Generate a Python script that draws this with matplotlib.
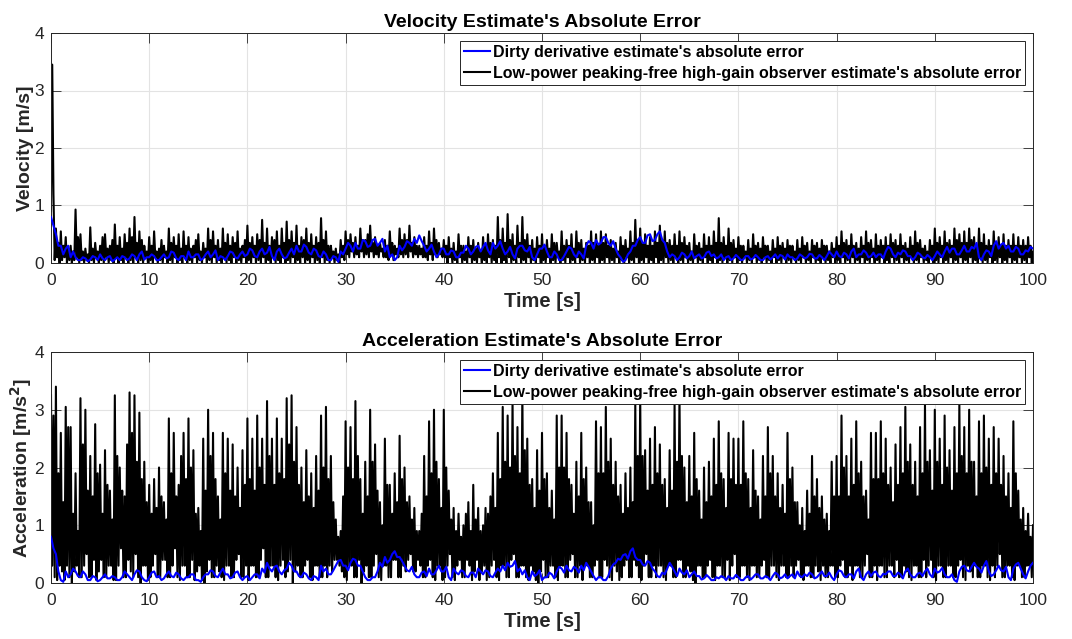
import matplotlib
matplotlib.use("Agg")
import matplotlib.pyplot as plt
import numpy as np

plt.rcParams["font.family"] = ["Liberation Sans", "DejaVu Sans"]

# velocity error, observer (black), 0.125 s samples, one row = 2 s
vel_hg = [
    0.9, 3.45, 1.2, 0.05, 0.6, 0.1, 0.35, 0.0, 0.55, 0.05, 0.3, 0.1, 0.45, 0.0, 0.25, 0.05,
    0.3, 0.0, 0.2, 0.05, 0.93, 0.1, 0.45, 0.0, 0.5, 0.05, 0.2, 0.0, 0.25, 0.05, 0.15, 0.0,
    0.62, 0.05, 0.25, 0.0, 0.35, 0.1, 0.2, 0.0, 0.3, 0.05, 0.45, 0.0, 0.5, 0.1, 0.25, 0.0,
    0.3, 0.05, 0.4, 0.0, 0.67, 0.1, 0.3, 0.0, 0.45, 0.05, 0.25, 0.0, 0.5, 0.1, 0.35, 0.0,
    0.6, 0.05, 0.45, 0.0, 0.8, 0.1, 0.35, 0.0, 0.55, 0.05, 0.4, 0.0, 0.3, 0.1, 0.2, 0.0,
    0.45, 0.05, 0.3, 0.0, 0.55, 0.1, 0.2, 0.0, 0.25, 0.05, 0.4, 0.0, 0.3, 0.1, 0.2, 0.0,
    0.6, 0.05, 0.35, 0.0, 0.45, 0.1, 0.3, 0.0, 0.5, 0.05, 0.25, 0.0, 0.55, 0.1, 0.3, 0.0,
    0.45, 0.05, 0.25, 0.0, 0.3, 0.1, 0.4, 0.0, 0.5, 0.05, 0.2, 0.0, 0.35, 0.1, 0.25, 0.0,
    0.6, 0.05, 0.4, 0.0, 0.55, 0.1, 0.3, 0.0, 0.4, 0.05, 0.25, 0.0, 0.6, 0.1, 0.35, 0.0,
    0.5, 0.05, 0.3, 0.0, 0.45, 0.1, 0.35, 0.0, 0.55, 0.05, 0.25, 0.0, 0.3, 0.1, 0.4, 0.0,
    0.65, 0.05, 0.35, 0.0, 0.45, 0.1, 0.3, 0.0, 0.5, 0.05, 0.4, 0.0, 0.75, 0.1, 0.35, 0.0,
    0.6, 0.05, 0.3, 0.0, 0.45, 0.1, 0.4, 0.0, 0.55, 0.05, 0.3, 0.0, 0.6, 0.1, 0.35, 0.0,
    0.72, 0.05, 0.4, 0.0, 0.55, 0.1, 0.35, 0.0, 0.65, 0.05, 0.3, 0.0, 0.45, 0.1, 0.4, 0.0,
    0.6, 0.05, 0.35, 0.0, 0.5, 0.1, 0.3, 0.0, 0.45, 0.05, 0.35, 0.0, 0.78, 0.1, 0.4, 0.0,
    0.55, 0.05, 0.3, 0.0, 0.3, 0.1, 0.2, 0.0, 0.25, 0.05, 0.15, 0.0, 0.4, 0.1, 0.3, 0.05,
    0.55, 0.15, 0.4, 0.1, 0.5, 0.2, 0.35, 0.1, 0.45, 0.15, 0.3, 0.1, 0.6, 0.2, 0.4, 0.1,
    0.4, 0.15, 0.5, 0.1, 0.65, 0.2, 0.35, 0.1, 0.45, 0.15, 0.3, 0.1, 0.35, 0.2, 0.25, 0.1,
    0.4, 0.1, 0.3, 0.05, 0.55, 0.15, 0.35, 0.05, 0.3, 0.15, 0.25, 0.1, 0.6, 0.15, 0.4, 0.1,
    0.5, 0.15, 0.4, 0.1, 0.65, 0.2, 0.35, 0.1, 0.45, 0.15, 0.3, 0.1, 0.3, 0.15, 0.25, 0.1,
    0.45, 0.1, 0.3, 0.05, 0.55, 0.15, 0.35, 0.05, 0.6, 0.15, 0.4, 0.1, 0.35, 0.15, 0.25, 0.1,
    0.4, 0.1, 0.3, 0.0, 0.45, 0.1, 0.25, 0.0, 0.35, 0.05, 0.2, 0.0, 0.5, 0.1, 0.3, 0.0,
    0.3, 0.05, 0.2, 0.0, 0.45, 0.1, 0.3, 0.0, 0.4, 0.05, 0.25, 0.0, 0.35, 0.1, 0.2, 0.0,
    0.45, 0.05, 0.3, 0.0, 0.5, 0.1, 0.35, 0.0, 0.4, 0.05, 0.3, 0.0, 0.8, 0.1, 0.4, 0.0,
    0.6, 0.05, 0.35, 0.0, 0.85, 0.1, 0.4, 0.0, 0.5, 0.05, 0.3, 0.0, 0.65, 0.1, 0.35, 0.0,
    0.8, 0.05, 0.4, 0.0, 0.5, 0.1, 0.3, 0.0, 0.4, 0.05, 0.25, 0.0, 0.45, 0.1, 0.3, 0.0,
    0.5, 0.05, 0.3, 0.0, 0.4, 0.1, 0.25, 0.0, 0.5, 0.05, 0.35, 0.0, 0.35, 0.1, 0.2, 0.0,
    0.55, 0.05, 0.3, 0.0, 0.4, 0.1, 0.3, 0.0, 0.5, 0.05, 0.25, 0.0, 0.55, 0.1, 0.35, 0.0,
    0.4, 0.05, 0.25, 0.0, 0.35, 0.1, 0.3, 0.0, 0.55, 0.05, 0.35, 0.0, 0.5, 0.1, 0.3, 0.0,
    0.55, 0.05, 0.35, 0.0, 0.5, 0.1, 0.3, 0.0, 0.4, 0.05, 0.25, 0.0, 0.35, 0.1, 0.2, 0.0,
    0.45, 0.05, 0.3, 0.0, 0.4, 0.1, 0.25, 0.0, 0.55, 0.05, 0.35, 0.0, 0.75, 0.1, 0.4, 0.0,
    0.6, 0.05, 0.35, 0.0, 0.5, 0.1, 0.3, 0.0, 0.45, 0.05, 0.3, 0.0, 0.55, 0.1, 0.35, 0.0,
    0.65, 0.05, 0.4, 0.0, 0.55, 0.1, 0.35, 0.0, 0.4, 0.05, 0.3, 0.0, 0.5, 0.1, 0.3, 0.0,
    0.55, 0.05, 0.35, 0.0, 0.45, 0.1, 0.3, 0.0, 0.35, 0.05, 0.2, 0.0, 0.5, 0.1, 0.3, 0.0,
    0.35, 0.05, 0.25, 0.0, 0.5, 0.1, 0.3, 0.0, 0.45, 0.05, 0.3, 0.0, 0.55, 0.1, 0.35, 0.0,
    0.78, 0.05, 0.35, 0.0, 0.45, 0.1, 0.3, 0.0, 0.6, 0.05, 0.35, 0.0, 0.4, 0.1, 0.25, 0.0,
    0.45, 0.05, 0.3, 0.0, 0.3, 0.1, 0.2, 0.0, 0.4, 0.05, 0.25, 0.0, 0.5, 0.1, 0.3, 0.0,
    0.35, 0.05, 0.25, 0.0, 0.45, 0.1, 0.3, 0.0, 0.3, 0.05, 0.2, 0.0, 0.4, 0.1, 0.25, 0.0,
    0.45, 0.05, 0.3, 0.0, 0.35, 0.1, 0.25, 0.0, 0.4, 0.05, 0.3, 0.0, 0.3, 0.1, 0.2, 0.0,
    0.4, 0.05, 0.25, 0.0, 0.45, 0.1, 0.3, 0.0, 0.35, 0.05, 0.2, 0.0, 0.4, 0.1, 0.3, 0.0,
    0.35, 0.05, 0.25, 0.0, 0.4, 0.1, 0.3, 0.0, 0.3, 0.05, 0.2, 0.0, 0.35, 0.1, 0.25, 0.0,
    0.45, 0.05, 0.3, 0.0, 0.55, 0.1, 0.35, 0.0, 0.4, 0.05, 0.3, 0.0, 0.5, 0.1, 0.3, 0.0,
    0.35, 0.05, 0.25, 0.0, 0.45, 0.1, 0.3, 0.0, 0.55, 0.05, 0.35, 0.0, 0.4, 0.1, 0.25, 0.0,
    0.5, 0.05, 0.3, 0.0, 0.4, 0.1, 0.3, 0.0, 0.45, 0.05, 0.3, 0.0, 0.5, 0.1, 0.35, 0.0,
    0.4, 0.05, 0.3, 0.0, 0.5, 0.1, 0.3, 0.0, 0.35, 0.05, 0.25, 0.0, 0.45, 0.1, 0.3, 0.0,
    0.55, 0.05, 0.35, 0.0, 0.4, 0.1, 0.25, 0.0, 0.3, 0.05, 0.2, 0.0, 0.4, 0.1, 0.3, 0.0,
    0.6, 0.05, 0.35, 0.0, 0.45, 0.1, 0.3, 0.0, 0.55, 0.05, 0.35, 0.0, 0.4, 0.1, 0.3, 0.0,
    0.6, 0.05, 0.4, 0.0, 0.5, 0.1, 0.35, 0.0, 0.55, 0.05, 0.35, 0.0, 0.6, 0.1, 0.4, 0.0,
    0.45, 0.05, 0.3, 0.0, 0.6, 0.1, 0.35, 0.0, 0.5, 0.05, 0.3, 0.0, 0.4, 0.1, 0.3, 0.0,
    0.55, 0.05, 0.35, 0.0, 0.45, 0.1, 0.3, 0.0, 0.5, 0.05, 0.3, 0.0, 0.4, 0.1, 0.3, 0.0,
    0.5, 0.05, 0.3, 0.0, 0.45, 0.1, 0.3, 0.0, 0.4, 0.05, 0.3, 0.0, 0.45, 0.1, 0.3, 0.0,
    0.2,
]

# velocity error, dirty derivative (blue), 0.25 s samples, one row = 2 s
vel_dd = [
    0.8, 0.65, 0.5, 0.3, 0.3, 0.15, 0.25, 0.3,
    0.1, 0.2, 0.1, 0.05, 0.05, 0.1, 0.08, 0.03,
    0.06, 0.12, 0.1, 0.05, 0.15, 0.08, 0.05, 0.1,
    0.12, 0.03, 0.06, 0.1, 0.05, 0.12, 0.1, 0.05,
    0.08, 0.15, 0.12, 0.05, 0.15, 0.2, 0.06, 0.1,
    0.1, 0.15, 0.12, 0.05, 0.05, 0.1, 0.15, 0.08,
    0.1, 0.2, 0.18, 0.08, 0.05, 0.12, 0.12, 0.05,
    0.2, 0.1, 0.1, 0.15, 0.15, 0.05, 0.08, 0.15,
    0.2, 0.1, 0.15, 0.22, 0.05, 0.12, 0.1, 0.05,
    0.12, 0.2, 0.18, 0.1, 0.08, 0.15, 0.2, 0.12,
    0.15, 0.25, 0.22, 0.12, 0.1, 0.2, 0.25, 0.15,
    0.18, 0.28, 0.12, 0.05, 0.2, 0.25, 0.15, 0.08,
    0.1, 0.18, 0.25, 0.15, 0.3, 0.2, 0.2, 0.32,
    0.28, 0.18, 0.15, 0.25, 0.22, 0.12, 0.1, 0.2,
    0.15, 0.05, 0.05, 0.12, 0.1, 0.02, 0.2, 0.15,
    0.25, 0.35, 0.3, 0.2, 0.35, 0.25, 0.25, 0.4,
    0.38, 0.28, 0.3, 0.4, 0.42, 0.3, 0.35, 0.42,
    0.2, 0.3, 0.1, 0.15, 0.05, 0.1, 0.3, 0.22,
    0.28, 0.38, 0.35, 0.3, 0.42, 0.35, 0.48, 0.38,
    0.3, 0.2, 0.25, 0.32, 0.2, 0.1, 0.15, 0.25,
    0.25, 0.15, 0.15, 0.22, 0.2, 0.1, 0.1, 0.18,
    0.18, 0.3, 0.25, 0.15, 0.2, 0.28, 0.3, 0.2,
    0.28, 0.35, 0.22, 0.15, 0.35, 0.25, 0.3, 0.38,
    0.25, 0.15, 0.2, 0.28, 0.15, 0.08, 0.25, 0.3,
    0.3, 0.22, 0.2, 0.28, 0.1, 0.05, 0.15, 0.25,
    0.25, 0.32, 0.2, 0.1, 0.1, 0.2, 0.15, 0.05,
    0.05, 0.12, 0.2, 0.28, 0.25, 0.15, 0.1, 0.2,
    0.15, 0.08, 0.3, 0.38, 0.35, 0.25, 0.4, 0.32,
    0.35, 0.45, 0.45, 0.35, 0.3, 0.38, 0.25, 0.15,
    0.1, 0.02, 0.05, 0.15, 0.2, 0.3, 0.3, 0.4,
    0.45, 0.35, 0.35, 0.48, 0.5, 0.38, 0.4, 0.5,
    0.55, 0.4, 0.35, 0.2, 0.1, 0.15, 0.12, 0.05,
    0.1, 0.18, 0.15, 0.08, 0.12, 0.2, 0.08, 0.12,
    0.15, 0.08, 0.1, 0.18, 0.2, 0.12, 0.15, 0.08,
    0.1, 0.15, 0.05, 0.1, 0.12, 0.05, 0.08, 0.14,
    0.1, 0.05, 0.06, 0.12, 0.12, 0.06, 0.08, 0.14,
    0.1, 0.05, 0.05, 0.1, 0.12, 0.06, 0.1, 0.15,
    0.08, 0.14, 0.12, 0.06, 0.15, 0.1, 0.1, 0.05,
    0.08, 0.15, 0.12, 0.08, 0.1, 0.16, 0.15, 0.08,
    0.08, 0.14, 0.1, 0.05, 0.12, 0.2, 0.15, 0.1,
    0.2, 0.12, 0.1, 0.18, 0.15, 0.08, 0.2, 0.25,
    0.1, 0.15, 0.15, 0.22, 0.18, 0.1, 0.12, 0.18,
    0.1, 0.15, 0.15, 0.08, 0.2, 0.28, 0.25, 0.15,
    0.1, 0.18, 0.15, 0.22, 0.2, 0.12, 0.12, 0.05,
    0.1, 0.18, 0.15, 0.1, 0.08, 0.14, 0.1, 0.05,
    0.12, 0.2, 0.15, 0.1, 0.2, 0.28, 0.18, 0.25,
    0.25, 0.15, 0.15, 0.22, 0.3, 0.2, 0.2, 0.28,
    0.25, 0.35, 0.1, 0.05, 0.15, 0.22, 0.2, 0.12,
    0.3, 0.38, 0.25, 0.32, 0.35, 0.25, 0.3, 0.2,
    0.2, 0.28, 0.25, 0.15, 0.15, 0.22, 0.2, 0.28,
    0.25,
]

# acceleration error, observer (black), 0.125 s samples, one row = 2 s
acc_hg = [
    3.25, 0.3, 2.9, 0.1, 3.4, 0.05, 1.9, 0.3, 2.6, 0.2, 1.4, 0.05, 3.05, 0.3, 2.7, 0.1,
    2.7, 0.0, 1.2, 0.2, 1.9, 0.3, 0.9, 0.1, 3.2, 0.1, 2.4, 0.3, 3.0, 0.5, 1.6, 0.1,
    2.2, 0.1, 1.5, 0.4, 2.75, 0.05, 1.9, 0.2, 2.05, 0.4, 1.2, 0.1, 2.3, 0.1, 1.7, 0.3,
    1.6, 0.3, 1.1, 0.05, 3.25, 0.05, 2.2, 0.3, 2.0, 0.6, 1.6, 0.1, 1.5, 0.1, 2.4, 0.4,
    3.3, 0.2, 2.6, 0.1, 3.25, 0.5, 2.1, 0.1, 2.95, 0.0, 1.8, 0.3, 2.1, 0.3, 1.4, 0.05,
    1.7, 0.1, 1.2, 0.3, 1.8, 0.5, 1.3, 0.1, 2.0, 0.1, 1.5, 0.4, 1.4, 0.4, 1.1, 0.1,
    2.85, 0.1, 1.9, 0.3, 2.6, 0.6, 1.5, 0.1, 1.7, 0.05, 2.2, 0.3, 2.6, 0.3, 1.8, 0.1,
    2.85, 0.1, 2.0, 0.4, 2.3, 0.05, 1.2, 0.2, 1.3, 0.3, 0.9, 0.05, 2.5, 0.0, 1.6, 0.2,
    3.0, 0.4, 2.2, 0.1, 2.6, 0.1, 1.8, 0.3, 1.5, 0.2, 1.1, 0.1, 2.6, 0.05, 1.9, 0.3,
    2.5, 0.3, 1.6, 0.1, 2.4, 0.1, 1.5, 0.4, 2.0, 0.5, 1.3, 0.1, 2.3, 0.1, 1.7, 0.3,
    2.85, 0.05, 1.8, 0.3, 2.5, 0.3, 1.6, 0.1, 2.9, 0.1, 2.0, 0.4, 2.5, 0.6, 1.7, 0.1,
    3.15, 0.1, 2.2, 0.3, 2.5, 0.3, 1.7, 0.1, 2.85, 0.05, 1.9, 0.3, 2.5, 0.4, 1.8, 0.1,
    3.2, 0.2, 2.4, 0.4, 3.25, 0.0, 2.1, 0.2, 2.7, 0.3, 1.7, 0.1, 2.0, 0.1, 1.4, 0.3,
    2.3, 0.4, 1.5, 0.1, 1.9, 0.05, 1.3, 0.3, 2.2, 0.3, 1.6, 0.1, 2.9, 0.1, 2.0, 0.3,
    3.05, 0.1, 1.8, 0.3, 2.2, 0.2, 1.4, 0.4, 1.1, 0.4, 0.8, 0.3, 0.9, 0.2, 1.5, 0.1,
    2.8, 0.05, 2.0, 0.3, 2.7, 0.3, 1.8, 0.1, 3.15, 0.1, 2.2, 0.4, 1.8, 0.0, 1.2, 0.2,
    2.1, 0.3, 1.5, 0.1, 3.0, 0.1, 2.1, 0.3, 2.4, 0.5, 1.6, 0.1, 1.4, 0.05, 1.0, 0.3,
    2.5, 0.3, 1.7, 0.1, 1.7, 0.1, 1.2, 0.4, 1.9, 0.4, 1.4, 0.1, 2.55, 0.1, 1.8, 0.3,
    2.0, 0.2, 1.4, 0.4, 1.5, 0.5, 1.1, 0.2, 1.3, 0.2, 0.9, 0.4, 0.9, 0.3, 1.2, 0.1,
    2.2, 0.1, 1.5, 0.3, 2.8, 0.4, 1.9, 0.1, 3.0, 0.05, 2.1, 0.3, 1.8, 0.3, 1.3, 0.05,
    3.0, 0.1, 2.0, 0.3, 1.6, 0.5, 1.1, 0.1, 1.3, 0.05, 0.9, 0.3, 1.2, 0.4, 0.8, 0.1,
    1.0, 0.1, 1.2, 0.4, 1.4, 0.3, 0.9, 0.05, 1.7, 0.2, 1.1, 0.4, 1.3, 0.05, 0.9, 0.2,
    1.0, 0.3, 1.3, 0.05, 1.2, 0.1, 1.5, 0.3, 1.9, 0.4, 1.3, 0.1, 2.6, 0.05, 1.8, 0.3,
    3.05, 0.3, 2.1, 0.1, 2.9, 0.1, 2.0, 0.4, 3.15, 0.5, 2.2, 0.1, 2.7, 0.1, 1.9, 0.3,
    3.3, 0.3, 2.3, 0.1, 2.5, 0.05, 1.7, 0.3, 1.8, 0.2, 1.3, 0.05, 2.3, 0.0, 1.6, 0.2,
    2.6, 0.4, 1.8, 0.1, 1.9, 0.1, 1.3, 0.3, 1.6, 0.3, 1.1, 0.1, 2.9, 0.05, 2.0, 0.3,
    2.9, 0.3, 2.0, 0.1, 2.6, 0.1, 1.8, 0.4, 1.7, 0.5, 1.2, 0.1, 2.1, 0.1, 1.5, 0.3,
    2.6, 0.05, 1.8, 0.3, 2.0, 0.3, 1.4, 0.1, 1.4, 0.1, 1.0, 0.3, 2.8, 0.4, 1.9, 0.1,
    2.7, 0.1, 1.9, 0.4, 3.05, 0.3, 2.1, 0.1, 2.5, 0.05, 1.7, 0.3, 2.1, 0.2, 1.5, 0.05,
    1.7, 0.1, 1.2, 0.3, 1.9, 0.4, 1.3, 0.1, 2.0, 0.1, 1.4, 0.4, 3.1, 0.3, 2.2, 0.1,
    3.25, 0.05, 2.2, 0.3, 2.3, 0.5, 1.6, 0.1, 2.5, 0.1, 1.7, 0.3, 2.7, 0.1, 1.9, 0.3,
    2.4, 0.3, 1.7, 0.1, 1.8, 0.05, 1.3, 0.3, 2.3, 0.3, 1.6, 0.1, 3.1, 0.1, 2.1, 0.4,
    3.25, 0.4, 2.2, 0.1, 2.0, 0.1, 1.4, 0.3, 2.2, 0.2, 1.5, 0.05, 2.6, 0.0, 1.8, 0.3,
    1.6, 0.3, 1.1, 0.1, 2.0, 0.1, 1.4, 0.3, 2.1, 0.4, 1.5, 0.1, 2.5, 0.05, 1.7, 0.3,
    2.8, 0.3, 1.9, 0.1, 1.8, 0.1, 1.3, 0.4, 2.6, 0.05, 1.8, 0.3, 2.5, 0.5, 1.7, 0.1,
    2.5, 0.1, 1.7, 0.3, 2.8, 0.3, 1.9, 0.1, 1.8, 0.05, 1.3, 0.3, 2.3, 0.3, 1.6, 0.1,
    1.5, 0.1, 1.1, 0.3, 2.2, 0.4, 1.5, 0.1, 2.7, 0.1, 1.9, 0.3, 2.2, 0.3, 1.5, 0.1,
    1.9, 0.05, 1.3, 0.3, 1.7, 0.3, 1.2, 0.1, 2.6, 0.1, 1.8, 0.3, 2.0, 0.1, 1.4, 0.3,
    1.4, 0.4, 1.0, 0.1, 1.3, 0.05, 0.9, 0.3, 1.6, 0.3, 1.2, 0.1, 2.2, 0.1, 1.5, 0.3,
    1.8, 0.2, 1.3, 0.05, 1.5, 0.3, 1.1, 0.1, 1.2, 0.1, 0.9, 0.3, 2.1, 0.3, 1.5, 0.1,
    2.2, 0.1, 1.5, 0.3, 2.9, 0.4, 2.0, 0.1, 2.2, 0.1, 1.5, 0.3, 2.5, 0.05, 1.7, 0.3,
    2.8, 0.3, 1.9, 0.1, 2.1, 0.1, 1.5, 0.3, 1.6, 0.5, 1.1, 0.1, 2.6, 0.1, 1.8, 0.3,
    2.6, 0.05, 1.8, 0.3, 2.8, 0.3, 1.9, 0.1, 2.5, 0.1, 1.7, 0.3, 2.0, 0.3, 1.4, 0.1,
    2.4, 0.4, 1.7, 0.1, 2.7, 0.1, 1.9, 0.3, 3.05, 0.2, 2.1, 0.1, 2.4, 0.05, 1.7, 0.3,
    2.1, 0.3, 1.5, 0.1, 2.7, 0.1, 1.9, 0.4, 3.1, 0.1, 2.1, 0.3, 2.3, 0.4, 1.6, 0.1,
    3.0, 0.05, 2.1, 0.3, 2.5, 0.3, 1.7, 0.1, 2.9, 0.1, 2.0, 0.3, 2.3, 0.3, 1.6, 0.1,
    2.7, 0.1, 1.9, 0.3, 3.1, 0.4, 2.2, 0.1, 2.7, 0.05, 1.9, 0.3, 3.0, 0.2, 2.1, 0.1,
    2.1, 0.3, 1.5, 0.1, 2.8, 0.1, 1.9, 0.3, 2.9, 0.3, 2.0, 0.1, 2.5, 0.05, 1.7, 0.3,
    2.7, 0.1, 1.9, 0.3, 2.5, 0.5, 1.7, 0.1, 2.2, 0.1, 1.5, 0.3, 1.9, 0.3, 1.3, 0.1,
    2.8, 0.05, 1.9, 0.3, 1.6, 0.3, 1.1, 0.1, 1.3, 0.1, 0.9, 0.3, 1.2, 0.3, 0.8, 0.1,
    1.0,
]

# acceleration error, dirty derivative (blue), 0.25 s samples, one row = 2 s
acc_dd = [
    0.8, 0.6, 0.5, 0.2, 0.05, 0.02, 0.2, 0.1,
    0.15, 0.25, 0.2, 0.12, 0.1, 0.2, 0.15, 0.05,
    0.05, 0.12, 0.1, 0.03, 0.05, 0.1, 0.15, 0.08,
    0.08, 0.12, 0.1, 0.05, 0.05, 0.1, 0.2, 0.15,
    0.1, 0.05, 0.15, 0.22, 0.2, 0.1, 0.05, 0.03,
    0.1, 0.18, 0.2, 0.1, 0.12, 0.05, 0.08, 0.15,
    0.2, 0.12, 0.1, 0.18, 0.15, 0.08, 0.05, 0.1,
    0.1, 0.15, 0.15, 0.05, 0.05, 0.02, 0.1, 0.15,
    0.15, 0.22, 0.2, 0.12, 0.1, 0.18, 0.25, 0.15,
    0.15, 0.08, 0.1, 0.18, 0.2, 0.1, 0.05, 0.1,
    0.12, 0.05, 0.1, 0.15, 0.15, 0.08, 0.25, 0.18,
    0.35, 0.25, 0.2, 0.28, 0.3, 0.2, 0.15, 0.22,
    0.25, 0.35, 0.3, 0.2, 0.2, 0.12, 0.1, 0.18,
    0.15, 0.08, 0.05, 0.12, 0.1, 0.05, 0.3, 0.2,
    0.25, 0.15, 0.15, 0.22, 0.3, 0.38, 0.4, 0.3,
    0.3, 0.22, 0.35, 0.42, 0.4, 0.3, 0.3, 0.2,
    0.1, 0.05, 0.05, 0.1, 0.1, 0.2, 0.35, 0.28,
    0.45, 0.35, 0.4, 0.5, 0.55, 0.45, 0.45, 0.38,
    0.3, 0.22, 0.2, 0.28, 0.15, 0.1, 0.1, 0.18,
    0.2, 0.12, 0.25, 0.15, 0.15, 0.22, 0.3, 0.2,
    0.2, 0.28, 0.1, 0.05, 0.25, 0.18, 0.15, 0.22,
    0.2, 0.12, 0.1, 0.18, 0.18, 0.1, 0.25, 0.2,
    0.15, 0.22, 0.2, 0.12, 0.1, 0.18, 0.25, 0.2,
    0.3, 0.22, 0.35, 0.28, 0.3, 0.38, 0.2, 0.25,
    0.15, 0.22, 0.1, 0.05, 0.2, 0.12, 0.15, 0.22,
    0.05, 0.1, 0.1, 0.18, 0.15, 0.08, 0.2, 0.28,
    0.25, 0.18, 0.3, 0.22, 0.2, 0.28, 0.25, 0.18,
    0.3, 0.22, 0.35, 0.28, 0.2, 0.12, 0.05, 0.1,
    0.1, 0.05, 0.05, 0.12, 0.25, 0.32, 0.35, 0.42,
    0.4, 0.48, 0.5, 0.42, 0.55, 0.6, 0.45, 0.4,
    0.4, 0.32, 0.3, 0.38, 0.35, 0.25, 0.2, 0.12,
    0.1, 0.18, 0.15, 0.25, 0.35, 0.28, 0.2, 0.12,
    0.25, 0.18, 0.15, 0.22, 0.1, 0.15, 0.2, 0.12,
    0.12, 0.06, 0.08, 0.14, 0.1, 0.05, 0.05, 0.1,
    0.08, 0.12, 0.1, 0.05, 0.12, 0.08, 0.08, 0.14,
    0.1, 0.05, 0.05, 0.1, 0.12, 0.06, 0.1, 0.15,
    0.15, 0.08, 0.08, 0.12, 0.1, 0.05, 0.12, 0.18,
    0.15, 0.08, 0.1, 0.15, 0.08, 0.12, 0.15, 0.08,
    0.2, 0.12, 0.1, 0.15, 0.12, 0.18, 0.15, 0.08,
    0.1, 0.15, 0.2, 0.12, 0.12, 0.18, 0.1, 0.05,
    0.15, 0.22, 0.2, 0.12, 0.1, 0.15, 0.15, 0.08,
    0.2, 0.25, 0.1, 0.05, 0.15, 0.2, 0.12, 0.18,
    0.2, 0.12, 0.1, 0.16, 0.15, 0.2, 0.2, 0.12,
    0.12, 0.18, 0.15, 0.08, 0.2, 0.25, 0.15, 0.1,
    0.1, 0.16, 0.18, 0.12, 0.2, 0.25, 0.15, 0.1,
    0.25, 0.18, 0.2, 0.26, 0.15, 0.1, 0.1, 0.15,
    0.05, 0.02, 0.2, 0.28, 0.3, 0.22, 0.2, 0.28,
    0.35, 0.28, 0.25, 0.18, 0.3, 0.38, 0.2, 0.12,
    0.15, 0.22, 0.3, 0.22, 0.2, 0.28, 0.1, 0.05,
    0.25, 0.32, 0.35, 0.25, 0.15, 0.08, 0.2, 0.3,
    0.35,
]

panels = [
    ("Velocity Estimate's Absolute Error", "Velocity [m/s]", vel_dd, vel_hg),
    ("Acceleration Estimate's Absolute Error", "Acceleration [m/s$^\\mathbf{2}$]", acc_dd, acc_hg),
]

W, H = 1072, 639
fig = plt.figure(figsize=(W / 100, H / 100), dpi=100)
boxes = [(51, 33, 1033, 263), (51, 352, 1033, 583)]
axis_col = "#262626"

for (title, ylab, dd, hg), (x0, y0, x1, y1) in zip(panels, boxes):
    ax = fig.add_axes([x0 / W, 1 - y1 / H, (x1 - x0) / W, (y1 - y0) / H])
    t_hg = np.linspace(0, 100, len(hg))
    t_dd = np.linspace(0, 100, len(dd))
    l_dd, = ax.plot(t_dd, dd, color="#0000ff", lw=1.5, zorder=3,
                    label="Dirty derivative estimate's absolute error")
    l_hg, = ax.plot(t_hg, hg, color="black", lw=1.5, zorder=2,
                    label="Low-power peaking-free high-gain observer estimate's absolute error")
    ax.set_xlim(0, 100)
    ax.set_ylim(0, 4)
    ax.set_xticks(np.arange(0, 101, 10))
    ax.set_yticks([0, 1, 2, 3, 4])
    ax.grid(True, color="#e3e3e3", lw=0.8, zorder=0)
    ax.set_axisbelow(True)
    ax.tick_params(direction="in", length=7, width=0.6, top=True, right=True,
                   labelsize=12.5, colors=axis_col)
    ax.tick_params(axis="x", pad=7)
    ax.tick_params(axis="y", pad=5)
    for s in ax.spines.values():
        s.set_color(axis_col)
        s.set_linewidth(0.7)
    ax.set_title(title, fontsize=14, fontweight="bold", pad=4)
    ax.set_xlabel("Time [s]", fontsize=14.5, fontweight="bold", color=axis_col, labelpad=3)
    ax.set_ylabel(ylab, fontsize=14, fontweight="bold", color=axis_col, labelpad=0)
    leg = ax.legend(handles=[l_dd, l_hg], loc="upper right",
                    prop={"weight": "bold", "size": 11.5}, frameon=True, fancybox=False,
                    borderaxespad=0.5, handlelength=1.6, handletextpad=0.2,
                    borderpad=0.25, labelspacing=0.35, framealpha=1)
    leg.get_frame().set_edgecolor(axis_col)
    leg.get_frame().set_linewidth(0.7)
    leg.set_zorder(5)

fig.savefig("out.png", dpi=100)
